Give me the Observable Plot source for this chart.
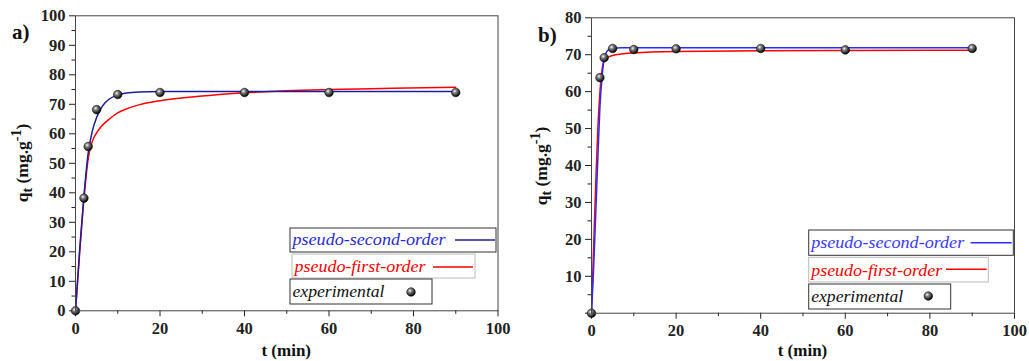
<!DOCTYPE html>
<html><head><meta charset="utf-8">
<script src="https://cdn.jsdelivr.net/npm/d3@7"></script>
<script src="https://cdn.jsdelivr.net/npm/@observablehq/plot@0.6"></script>
<style>
body{margin:0;background:#fff;width:1029px;height:361px;overflow:hidden;position:relative;}
.panel{position:absolute;top:0;}
</style></head><body>
<svg width="0" height="0" style="position:absolute"><defs>
<radialGradient id="sphere" cx="38%" cy="35%" r="65%">
<stop offset="0%" stop-color="#ffffff"/><stop offset="30%" stop-color="#888"/><stop offset="100%" stop-color="#000"/>
</radialGradient></defs></svg>
<div id="pa" class="panel" style="left:0"></div>
<div id="pb" class="panel" style="left:515px"></div>
<script>
// ---- experimental data ----
const timeA = [0, 2, 3, 5, 10, 20, 40, 60, 90];
const qExpA = [0, 38.2, 55.7, 68.2, 73.3, 74.0, 74.0, 74.0, 74.0];
const timeB = [0, 2, 3, 5, 10, 20, 40, 60, 90];
const qExpB = [0, 63.8, 69.2, 71.7, 71.4, 71.6, 71.7, 71.3, 71.7];

// ---- model curves ----
const fitTimeA = [0, 1, 2, 3, 4, 5, 6, 7, 8, 10, 12, 15, 20, 30, 40, 50, 60, 75, 90];
const psoA = [0, 21, 39, 53.5, 61, 65.5, 68.5, 70.5, 71.8, 73.1, 73.8, 74.2, 74.3, 74.3, 74.3, 74.3, 74.3, 74.3, 74.3];
const pfoA = [0, 20, 38, 51.5, 57.5, 60.3, 62.3, 63.8, 65.0, 67.1, 68.4, 69.8, 71.2, 72.8, 73.9, 74.6, 75.0, 75.4, 75.8];
const fitTimeB = [0, 0.5, 1, 1.5, 2, 2.5, 3, 3.5, 4, 5, 7, 10, 20, 40, 60, 90];
const psoB = [0, 12, 27, 42, 56, 64, 68.8, 70.6, 71.3, 71.7, 71.9, 71.9, 71.9, 71.9, 71.9, 71.9];
const pfoB = [0, 18, 35, 50, 60, 66, 68.5, 69.0, 69.4, 69.8, 70.2, 70.5, 70.9, 71.1, 71.15, 71.2];

// ---- labels ----
const seriesNames = ["pseudo-second-order", "pseudo-first-order", "experimental"];
const xTicks = [0, 20, 40, 60, 80, 100];
const xMinor = [10, 30, 50, 70, 90];
const yTicksA = [0, 10, 20, 30, 40, 50, 60, 70, 80, 90, 100];
const yMinorA = [5, 15, 25, 35, 45, 55, 65, 75, 85, 95];
const yTicksB = [0, 10, 20, 30, 40, 50, 60, 70, 80];
const yMinorB = [5, 15, 25, 35, 45, 55, 65, 75];

const FONT = "\"Liberation Serif\", \"Times New Roman\", serif";

function panel(cfg) {
  const pts = cfg.t.map((t, i) => ({t, q: cfg.q[i]}));
  const pso = cfg.ft.map((t, i) => ({t, q: cfg.pso[i]}));
  const pfo = cfg.ft.map((t, i) => ({t, q: cfg.pfo[i]}));
  const chart = Plot.plot({
    width: cfg.width, height: 361,
    marginLeft: cfg.ml, marginRight: cfg.mr, marginTop: cfg.mt, marginBottom: cfg.mb,
    style: {fontFamily: FONT, fontSize: "16.5px", fontWeight: "bold", color: "#222", background: "white", overflow: "visible"},
    x: {domain: [0, 100]},
    y: {domain: cfg.yDomain},
    marks: [
      Plot.axisX({ticks: xTicks, tickSize: 6, tickPadding: 5, label: null, tickFormat: d => String(d)}),
      Plot.axisX({ticks: xMinor, tickSize: 3.5, text: null, label: null}),
      Plot.axisY({ticks: cfg.yTicks, tickSize: 6, tickPadding: 4, label: null, tickFormat: d => (cfg.hideZero && d === 0) ? "" : String(d)}),
      Plot.axisY({ticks: cfg.yMinor, tickSize: 3.5, text: null, label: null}),
      Plot.line(pfo, {x: "t", y: "q", curve: "monotone-x", stroke: "#ff0000", strokeWidth: 1.5}),
      Plot.line(pso, {x: "t", y: "q", curve: "monotone-x", stroke: cfg.blue, strokeWidth: 1.5}),
      Plot.dot(pts, {x: "t", y: "q", r: 4.3, fill: "url(#sphere)", stroke: "#000", strokeWidth: 0.5}),
      Plot.frame({stroke: "#444", strokeWidth: 1})
    ]
  });
  const svg = d3.select(chart);
  const x = chart.scale("x"), y = chart.scale("y");
  const x0 = x.range[0], x1 = x.range[1];
  const g = svg.append("g").attr("font-family", FONT).attr("text-anchor", "start");
  // panel letter
  g.append("text").attr("x", cfg.letterX).attr("y", cfg.letterY)
    .attr("font-weight", "bold").attr("font-size", 21).attr("fill", "#111").text(cfg.letter);
  // x title
  g.append("text").attr("x", (x0 + x1) / 2).attr("y", 356).attr("text-anchor", "middle")
    .attr("font-weight", "bold").attr("font-size", 17).attr("fill", "#111").text("t (min)");
  // y title
  const yt = g.append("text").attr("transform", `translate(${cfg.yTitleX},${cfg.yTitleY}) rotate(-90)`)
    .attr("text-anchor", "middle").attr("font-weight", "bold").attr("font-size", 17.5).attr("fill", "#111");
  yt.append("tspan").text("q");
  yt.append("tspan").attr("dy", 4).attr("font-size", 14).text("t");
  yt.append("tspan").attr("dy", -4).text(" (mg.g");
  yt.append("tspan").attr("dy", -7).attr("font-size", 14).text("-1");
  yt.append("tspan").attr("dy", 7).text(")");
  // legend
  const L = cfg.legend;
  const colors = [cfg.legendBlue, "#ff0000", "#111"];
  const strokes = ["#333", "#bbb", "#333"];
  L.forEach((b, i) => {
    g.append("rect").attr("x", b.x).attr("y", b.y).attr("width", b.w).attr("height", b.h)
      .attr("fill", "white").attr("stroke", strokes[i]).attr("stroke-width", 1);
    g.append("text").attr("x", b.x + 2.5).attr("y", b.base)
      .attr("font-style", "italic").attr("font-weight", "normal").attr("font-size", 16)
      .attr("text-anchor", "start")
      .attr("textLength", b.tw).attr("lengthAdjust", "spacingAndGlyphs")
      .attr("fill", colors[i]).text(seriesNames[i]);
    if (i < 2) {
      g.append("line").attr("x1", b.l0).attr("x2", b.l1).attr("y1", b.ly).attr("y2", b.ly)
        .attr("stroke", i === 0 ? cfg.blue : "#ff0000").attr("stroke-width", 1.6);
    } else {
      g.append("circle").attr("cx", b.l0).attr("cy", b.ly).attr("r", 4.3)
        .attr("fill", "url(#sphere)").attr("stroke", "#000").attr("stroke-width", 0.5);
    }
  });
  document.getElementById(cfg.el).appendChild(chart);
}

panel({
  el: "pa", width: 515, ml: 75, mr: 17.5, mt: 15.3, mb: 50.7,
  yDomain: [0, 100], yTicks: yTicksA, yMinor: yMinorA, hideZero: false,
  t: timeA, q: qExpA, ft: fitTimeA, pso: psoA, pfo: pfoA,
  blue: "#1c1c9e", legendBlue: "#2a2ad2",
  letter: "a)", letterX: 12, letterY: 39, yTitleX: 28, yTitleY: 163,
  legend: [
    {x: 290, y: 228, w: 206, h: 24, base: 245, tw: 153, l0: 455, l1: 495, ly: 240},
    {x: 292, y: 254, w: 183, h: 24, base: 271.5, tw: 131, l0: 433, l1: 473, ly: 267},
    {x: 290, y: 279, w: 142, h: 25, base: 297, tw: 92, l0: 411, l1: 411, ly: 292}
  ]
});
panel({
  el: "pb", width: 514, ml: 76, mr: 15, mt: 17.3, mb: 48.3,
  yDomain: [0, 80], yTicks: yTicksB, yMinor: yMinorB, hideZero: true,
  t: timeB, q: qExpB, ft: fitTimeB, pso: psoB, pfo: pfoB,
  blue: "#2b2bff", legendBlue: "#3a3aff",
  letter: "b)", letterX: 23, letterY: 42, yTitleX: 32, yTitleY: 166,
  legend: [
    {x: 293.7, y: 230, w: 204.6, h: 25.3, base: 248.3, tw: 153, l0: 455.7, l1: 496.7, ly: 242.7},
    {x: 293.7, y: 257.3, w: 179.6, h: 24.7, base: 276, tw: 131, l0: 431, l1: 471.7, ly: 269.3},
    {x: 293.7, y: 284, w: 142, h: 25, base: 301.7, tw: 92, l0: 413.3, l1: 413.3, ly: 296}
  ]
});
</script>
</body></html>
